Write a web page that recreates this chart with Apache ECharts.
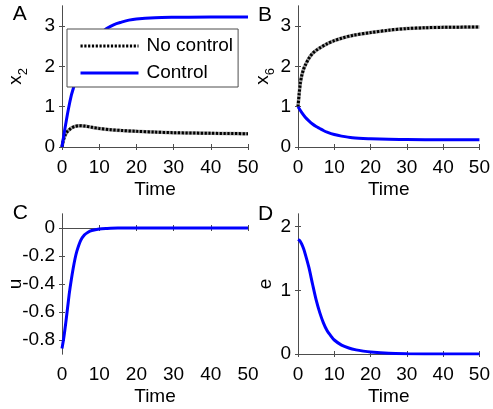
<!DOCTYPE html>
<html>
<head>
<meta charset="utf-8">
<script src="https://cdn.jsdelivr.net/npm/echarts@6/dist/echarts.min.js"></script>
<style>html,body{margin:0;padding:0;background:#fff}#c{width:493px;height:409px}</style>
</head>
<body>
<div id="c"></div>
<script>
// Panel A: x2
const tA = [0, 0.5, 1, 1.7, 2.5, 3, 4, 5, 6, 8, 10, 12, 14, 16, 18, 20, 25, 30, 40, 50];
const aControl = [0, 0.3, 0.57, 0.93, 1.28, 1.44, 1.76, 2.02, 2.23, 2.56, 2.78, 2.94, 3.04, 3.1, 3.15, 3.18, 3.21, 3.22, 3.23, 3.23];
const tA2 = [0, 0.3, 0.6, 1, 1.5, 2, 2.5, 3.5, 4.5, 6, 8, 10, 13, 16, 20, 25, 30, 40, 50];
const aNoControl = [0, 0.14, 0.24, 0.32, 0.39, 0.43, 0.47, 0.51, 0.53, 0.52, 0.49, 0.46, 0.43, 0.41, 0.39, 0.37, 0.355, 0.34, 0.33];
// Panel B: x6
const tB = [0, 0.3, 0.6, 1, 1.5, 2, 3, 4, 5, 6, 8, 10, 12, 15, 20, 25, 30, 35, 40, 50];
const bNoControl = [1.0, 1.3, 1.56, 1.76, 1.92, 2.03, 2.2, 2.32, 2.4, 2.46, 2.56, 2.64, 2.7, 2.77, 2.84, 2.9, 2.94, 2.96, 2.97, 2.98];
const tB2 = [0, 1, 2, 3, 4, 5, 6, 7, 8, 10, 12, 15, 20, 25, 30, 40, 50];
const bControl = [1.0, 0.86, 0.74, 0.65, 0.57, 0.51, 0.46, 0.41, 0.37, 0.31, 0.27, 0.23, 0.205, 0.19, 0.185, 0.18, 0.18];
// Panel C: u
const tC = [0, 0.5, 1, 1.5, 2, 2.5, 3, 3.5, 4, 5, 6, 7, 8, 10, 12, 15, 20, 30, 40, 50];
const cControl = [-0.86, -0.78, -0.68, -0.57, -0.46, -0.37, -0.29, -0.22, -0.165, -0.09, -0.05, -0.03, -0.018, -0.007, -0.003, 0, 0, 0, 0, 0];
// Panel D: e
const tD = [0, 0.5, 1, 1.5, 2, 3, 4, 5, 6, 7, 8, 9, 10, 12, 14, 16, 18, 20, 25, 30, 40, 50];
const dControl = [1.8, 1.78, 1.73, 1.66, 1.57, 1.36, 1.1, 0.85, 0.65, 0.49, 0.37, 0.29, 0.22, 0.14, 0.095, 0.065, 0.045, 0.03, 0.01, 0.004, 0, 0];
// ticks
const xTicks = [0, 10, 20, 30, 40, 50];
const yTicksAB = [0, 1, 2, 3];
const yTicksC = [-0.8, -0.6, -0.4, -0.2, 0];
const yTicksD = [0, 1, 2];

const FONT = 'Liberation Sans, Arial, sans-serif';
const AX = '#4d4d4d';
const zip = (t, v) => t.map((x, i) => [x, v[i]]);

const grids = [
  {left: 62, top: 6, width: 186, height: 141},
  {left: 298, top: 6, width: 185, height: 141},
  {left: 62, top: 214, width: 186, height: 140},
  {left: 298, top: 214, width: 185, height: 140}
];
const yCfg = [
  {min: 0, max: 3.5, ticks: yTicksAB, name: '{a|x}{b|2}', gap: 32},
  {min: 0, max: 3.5, ticks: yTicksAB, name: '{a|x}{b|6}', gap: 21},
  {min: -0.9, max: 0.1, ticks: yTicksC, name: 'u', gap: 37},
  {min: 0, max: 2.2, ticks: yTicksD, name: 'e', gap: 23}
];

const xAxis = [], yAxis = [];
grids.forEach((g, i) => {
  const common = {
    type: 'value', gridIndex: i, min: 0, max: 50,
    axisLine: {show: true, lineStyle: {color: AX, width: 1}},
    axisTick: {show: true, inside: true, length: 3, lineStyle: {color: AX}, customValues: xTicks},
    splitLine: {show: false}
  };
  xAxis.push(Object.assign({}, common, {
    position: 'bottom',
    name: 'Time', nameLocation: 'middle', nameGap: 33, nameMoveOverlap: false,
    nameTextStyle: {fontFamily: FONT, fontSize: 19, color: '#000'},
    axisLabel: {show: true, customValues: xTicks, fontFamily: FONT, fontSize: 19, color: '#000', margin: 11}
  }));
  xAxis.push(Object.assign({}, common, {position: 'top', axisLabel: {show: false}}));
  const y = yCfg[i];
  const yc = {
    type: 'value', gridIndex: i, min: y.min, max: y.max,
    axisLine: {show: true, lineStyle: {color: AX, width: 1}},
    axisTick: {show: true, inside: true, length: 3, lineStyle: {color: AX}, customValues: y.ticks},
    splitLine: {show: false}
  };
  yAxis.push(Object.assign({}, yc, {
    position: 'left',
    name: y.name, nameLocation: 'middle', nameGap: y.gap, nameMoveOverlap: false,
    nameTextStyle: {fontFamily: FONT, fontSize: 19, color: '#000',
      rich: {a: {fontFamily: FONT, fontSize: 19, color: '#000', lineHeight: 24, verticalAlign: 'top'},
             b: {fontFamily: FONT, fontSize: 13, color: '#000', lineHeight: 24, verticalAlign: 'bottom'}}},
    axisLabel: {show: true, customValues: y.ticks, fontFamily: FONT, fontSize: 19, color: '#000', margin: 7,
      formatter: v => (Math.abs(v) < 1e-9 ? '0' : String(+v.toFixed(2)))}
  }));
  yAxis.push(Object.assign({}, yc, {position: 'right', axisLabel: {show: false}}));
});

const dotUnder = (xi, yi, data) => ({
  type: 'line', xAxisIndex: xi, yAxisIndex: yi, data, symbol: 'none', smooth: 0.3,
  lineStyle: {color: '#9a9a9a', width: 3.5}, silent: true, z: 2
});
const dotted = (xi, yi, data) => ({
  name: 'No control', type: 'line', xAxisIndex: xi, yAxisIndex: yi, data, symbol: 'none', smooth: 0.3,
  lineStyle: {color: '#000', width: 3, type: [2.2, 1.6]}, z: 3
});
const solid = (xi, yi, data) => ({
  name: 'Control', type: 'line', xAxisIndex: xi, yAxisIndex: yi, data, symbol: 'none', smooth: 0.3,
  lineStyle: {color: '#0000ff', width: 3}, z: 4
});

const series = [
  dotUnder(0, 0, zip(tA2, aNoControl)),
  dotted(0, 0, zip(tA2, aNoControl)),
  solid(0, 0, zip(tA, aControl)),
  dotUnder(2, 2, zip(tB, bNoControl)),
  dotted(2, 2, zip(tB, bNoControl)),
  solid(2, 2, zip(tB2, bControl)),
  solid(4, 4, zip(tC, cControl)),
  solid(6, 6, zip(tD, dControl))
];

const letters = [['A', 12.7, 15], ['B', 258, 15.3], ['C', 12.7, 214], ['D', 258, 214.5]];

const chart = echarts.init(document.getElementById('c'), null, {renderer: 'canvas'});
chart.setOption({
  animation: false,
  backgroundColor: '#fff',
  grid: grids,
  xAxis, yAxis, series,
  legend: {
    data: ['No control', 'Control'],
    orient: 'vertical', left: 67, top: 29,
    padding: [7, 5, 4, 12],
    itemGap: 7, itemWidth: 58, itemHeight: 20,
    borderColor: '#4d4d4d', borderWidth: 1, backgroundColor: '#fff',
    itemStyle: {opacity: 0},
    lineStyle: {width: 3},
    textStyle: {fontFamily: FONT, fontSize: 19, color: '#000', lineHeight: 20, padding: [0, 0, 0, 3]},
    selectedMode: false, z: 10
  },
  graphic: letters.map(([t, x, y]) => ({
    type: 'text', left: x, top: y - 11,
    style: {text: t, fontFamily: FONT, fontSize: 21, fill: '#000'}
  }))
});
</script>
</body>
</html>
